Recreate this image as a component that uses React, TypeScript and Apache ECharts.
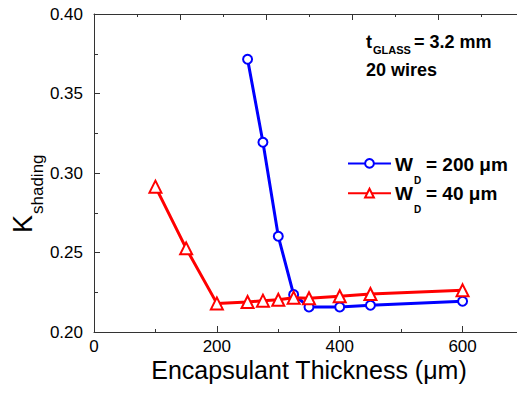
import React, { useEffect, useRef } from "react";
import * as echarts from "echarts";

// Data
const thickness200 = [250, 275, 300, 325, 350, 400, 450, 600];
const kShading200 = [0.3715, 0.3193, 0.2602, 0.2235, 0.2157, 0.2157, 0.2168, 0.2193];
const thickness40 = [100, 150, 200, 250, 275, 300, 325, 350, 400, 450, 600];
const kShading40 = [0.2914, 0.2526, 0.218, 0.2189, 0.2197, 0.2203, 0.2216, 0.2212, 0.2225, 0.2239, 0.2262];
const seriesNames = ["WD = 200 μm", "WD = 40 μm"];
const legendLabels = ["= 200 μm", "= 40 μm"];
const xRange = [0, 700];
const yRange = [0.2, 0.4];

const FONT = '"Liberation Sans", Arial, Helvetica, sans-serif';

export default function App() {
  const ref = useRef<HTMLDivElement>(null);
  useEffect(() => {
    if (!ref.current) return;
    const chart = echarts.init(ref.current, undefined, { renderer: "svg" });
    const axisColor = "#333";
    const txt = (x: number, y: number, text: string, size: number, bold = true, extra: any = {}) => ({
      type: "text",
      x,
      y,
      ...extra,
      style: {
        text,
        fill: "#000",
        font: `${bold ? "bold " : ""}${size}px ${FONT}`,
        fontSize: size,
        fontWeight: bold ? "bold" : "normal",
        fontFamily: FONT,
        textAlign: "left",
        textVerticalAlign: "middle",
        align: "left",
        verticalAlign: "middle",
      },
    });
    chart.setOption({
      animation: false,
      backgroundColor: "#fff",
      grid: {
        left: 94,
        top: 14,
        width: 430,
        height: 318,
        containLabel: false,
        outerBoundsMode: "none",
      },
      xAxis: [
        {
          type: "value",
          position: "bottom",
          min: xRange[0],
          max: xRange[1],
          interval: 200,
          name: "Encapsulant Thickness (μm)",
          nameLocation: "middle",
          nameGap: 25,
          nameMoveOverlap: false,
          nameTextStyle: { fontSize: 25, fontFamily: FONT, color: "#000", lineHeight: 25 },
          axisLine: { show: true, lineStyle: { color: axisColor, width: 1 } },
          axisTick: { show: true, inside: true, length: 6, lineStyle: { color: axisColor } },
          minorTick: { show: true, splitNumber: 2, length: 3, lineStyle: { color: axisColor } },
          splitLine: { show: false },
          axisLabel: {
            fontSize: 17,
            lineHeight: 17,
            fontFamily: FONT,
            color: "#000",
            margin: 6,
            showMaxLabel: false,
          },
        },
        {
          type: "value",
          position: "top",
          min: 0,
          max: 5,
          interval: 1,
          axisLine: { show: true, lineStyle: { color: axisColor, width: 1 } },
          axisTick: { show: true, inside: true, length: 6, lineStyle: { color: axisColor } },
          minorTick: { show: true, splitNumber: 2, length: 3, lineStyle: { color: axisColor } },
          splitLine: { show: false },
          axisLabel: { show: false },
        },
      ],
      yAxis: {
        type: "value",
        min: yRange[0],
        max: yRange[1],
        interval: 0.05,
        axisLine: { show: true, lineStyle: { color: axisColor, width: 1 } },
        axisTick: { show: true, inside: true, length: 6, lineStyle: { color: axisColor } },
        minorTick: { show: true, splitNumber: 2, length: 4, lineStyle: { color: axisColor } },
        splitLine: { show: false },
        axisLabel: {
          fontSize: 17,
          fontFamily: FONT,
          color: "#000",
          margin: 11,
          formatter: (v: number) => v.toFixed(2),
        },
      },
      legend: {
        data: seriesNames,
        orient: "vertical",
        left: 347,
        top: 158,
        padding: 0,
        itemWidth: 43,
        itemHeight: 11,
        itemGap: 19,
        formatter: () => "",
        textStyle: { fontSize: 10, lineHeight: 11 },
      },
      series: [
        {
          name: seriesNames[0],
          type: "line",
          xAxisIndex: 0,
          data: thickness200.map((x, i) => [x, kShading200[i]]),
          symbol: "emptyCircle",
          symbolSize: 9,
          color: "#0000ff",
          lineStyle: { color: "#0000ff", width: 3 },
          itemStyle: { color: "#0000ff", borderColor: "#0000ff", borderWidth: 2 },
          z: 2,
        },
        {
          name: seriesNames[1],
          type: "line",
          xAxisIndex: 0,
          data: thickness40.map((x, i) => [x, kShading40[i]]),
          symbol: "emptyTriangle",
          symbolSize: 12,
          color: "#ff0000",
          lineStyle: { color: "#ff0000", width: 3 },
          itemStyle: { color: "#ff0000", borderColor: "#ff0000", borderWidth: 2 },
          z: 3,
        },
      ],
      graphic: [
        // y-axis title K_shading
        txt(23, 233, "K", 27, false, { rotation: Math.PI / 2 }),
        txt(37, 214, "shading", 17, false, { rotation: Math.PI / 2 }),
        // annotation
        txt(366, 42, "t", 18),
        txt(373, 50, "GLASS", 11),
        txt(414, 42, "= 3.2 mm", 18),
        txt(366, 70, "20 wires", 18),
        // legend labels
        txt(395, 164.5, "W", 19),
        txt(414, 180, "D", 10),
        txt(426, 164.5, legendLabels[0], 19),
        txt(395, 193.5, "W", 19),
        txt(414, 209, "D", 10),
        txt(426, 193.5, legendLabels[1], 19),
      ],
    });
    return () => chart.dispose();
  }, []);
  return (
    <div
      ref={ref}
      style={{ position: "fixed", left: 0, top: 0, width: 517, height: 393, background: "#fff" }}
    />
  );
}
